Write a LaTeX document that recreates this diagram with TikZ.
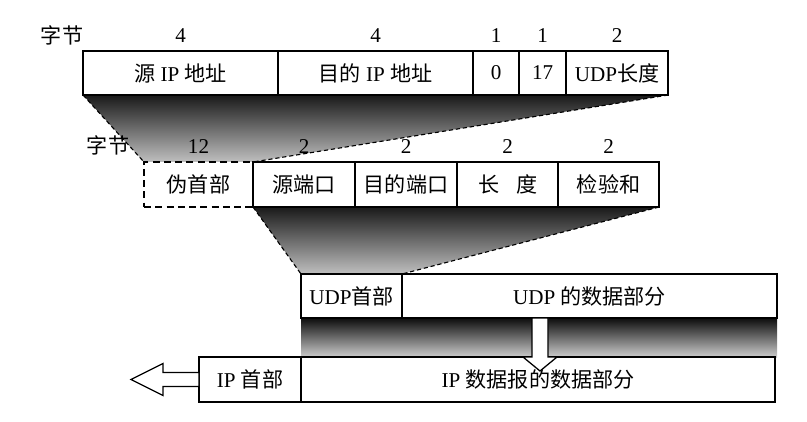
\documentclass[tikz,border=0pt]{standalone}
\usepackage{fontspec}
\setmainfont{Liberation Serif}
\newfontfamily\cjk{Noto Sans CJK SC}
\newcommand{\zh}[1]{{\cjk #1}}
\usetikzlibrary{positioning,calc,backgrounds}

\begin{document}
\begin{tikzpicture}[
  x=0.025cm, y=-0.025cm,
  every node/.style={font=\fontsize{15}{18}\selectfont},
  cell/.style={draw,line width=1.1pt,fill=white,inner sep=0pt,outer sep=0pt,
               minimum height=1.1cm},
  pcell/.style={cell,dash pattern=on 5pt off 3pt,line width=1.6pt},
  bytes/.style={inner sep=1pt},
  guide/.style={dash pattern=on 3pt off 2pt,line width=0.8pt},
  fade/.style={top color=black!90,bottom color=black!25},
  hollow/.style={draw,line width=0.9pt,fill=white},
]
  \useasboundingbox (0,0) rectangle (807,421);

  % Row 1: pseudo header fields
  \node[cell,minimum width=4.875cm,anchor=west] (sip) at (83,73) {\zh{源} IP \zh{地址}};
  \node[cell,minimum width=4.875cm,right=0pt of sip] (dip) {\zh{目的} IP \zh{地址}};
  \node[cell,minimum width=1.15cm,right=0pt of dip] (zero) {0};
  \node[cell,minimum width=1.175cm,right=0pt of zero] (proto) {17};
  \node[cell,minimum width=2.55cm,right=0pt of proto] (ulen) {UDP\zh{长度}};

  \node[bytes] (unit1) at (62,35) {\zh{字节}};
  \node[bytes,above=5pt of sip] (b1) {4};
  \node[bytes,above=5pt of dip] (b2) {4};
  \node[bytes,above=5pt of zero] (b3) {1};
  \node[bytes,above=5pt of proto] (b4) {1};
  \node[bytes,above=5pt of ulen] (b5) {2};

  % Row 2: pseudo header + UDP header
  \node[pcell,minimum width=2.725cm,minimum height=1.125cm,anchor=west] (pseudo) at (144,184.5) {\zh{伪首部}};
  \node[cell,minimum width=2.55cm,minimum height=1.125cm,right=0pt of pseudo] (sport) {\zh{源端口}};
  \node[cell,minimum width=2.55cm,minimum height=1.125cm,right=0pt of sport] (dport) {\zh{目的端口}};
  \node[cell,minimum width=2.525cm,minimum height=1.125cm,right=0pt of dport] (len) {\zh{长\hspace{0.8em}度}};
  \node[cell,minimum width=2.525cm,minimum height=1.125cm,right=0pt of len] (csum) {\zh{检验和}};

  \node[bytes] (unit2) at (108,145) {\zh{字节}};
  \node[bytes,above=5pt of pseudo] (c1) {12};
  \node[bytes,above=5pt of sport] (c2) {2};
  \node[bytes,above=5pt of dport] (c3) {2};
  \node[bytes,above=5pt of len] (c4) {2};
  \node[bytes,above=5pt of csum] (c5) {2};

  % Row 3: UDP datagram
  \node[cell,minimum width=2.525cm,anchor=west] (udph) at (301,296) {UDP\zh{首部}};
  \node[cell,minimum width=9.375cm,right=0pt of udph] (udpd) {UDP \zh{的数据部分}};

  % Row 4: IP datagram
  \node[cell,minimum width=2.55cm,minimum height=1.125cm,anchor=west] (iph) at (199,379.5) {IP \zh{首部}};
  \node[cell,minimum width=11.85cm,minimum height=1.125cm,right=0pt of iph] (ipd) {IP \zh{数据报的数据部分}};

  % shaded projections
  \begin{scope}[on background layer]
    \shade[fade] (sip.south west) -- (ulen.south east) -- (pseudo.north east) -- (pseudo.north west) -- cycle;
    \shade[fade] (sport.south west) -- (csum.south east) -- (udph.north east) -- (udph.north west) -- cycle;
    \shade[top color=black!95,bottom color=black!20] (udph.south west) rectangle (udpd.south east |- ipd.north);
  \end{scope}

  \draw[guide] (sip.south west) -- (pseudo.north west);
  \draw[guide] (ulen.south east) -- (pseudo.north east);
  \draw[guide] (sport.south west) -- (udph.north west);
  \draw[guide] (csum.south east) -- (udph.north east);

  % hollow arrows
  \draw[hollow] ($(540,0 |- udpd.south)+(-8,0)$) -- ++(0,39) -- ++(-9,0) -- ++(17,14)
    -- ++(17,-14) -- ++(-9,0) -- ++(0,-39) -- cycle;
  \draw[hollow] ($(iph.west)+(0,-7)$) -- ++(-36,0) -- ++(0,-9) -- ++(-32,16)
    -- ++(32,16) -- ++(0,-9) -- ++(36,0) -- cycle;
\end{tikzpicture}
\end{document}
